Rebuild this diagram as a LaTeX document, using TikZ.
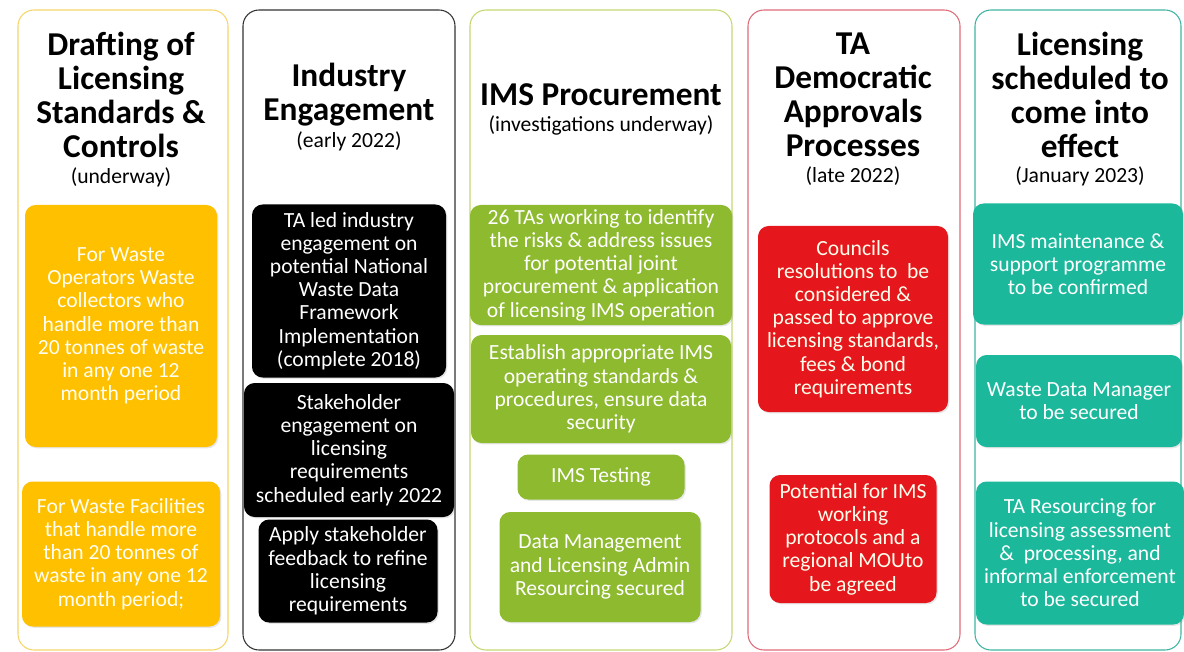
\documentclass[tikz,border=0pt]{standalone}
\usepackage{fontspec}
\setmainfont{Carlito}
\usetikzlibrary{shadows}

\definecolor{wyellow}{HTML}{FFC000}
\definecolor{wgreen}{HTML}{8DBA2E}
\definecolor{wred}{HTML}{E5161C}
\definecolor{wteal}{HTML}{1CB89C}
\definecolor{line1}{HTML}{F6D66A}
\definecolor{line3}{HTML}{C4D872}
\definecolor{line4}{HTML}{E06A78}
\definecolor{line5}{HTML}{3FB3A0}

\newcommand\headfont{\fontsize{25}{25.5}\selectfont\bfseries}
\newcommand\subfont{\fontsize{16.2}{17}\selectfont}
\newcommand\cardfont{\fontsize{16.2}{17.4}\selectfont}

\begin{document}
\begin{tikzpicture}[x=0.75pt,y=-0.75pt,
  col/.style={draw=#1, line width=0.8pt, rounded corners=12pt, inner sep=0pt, minimum height=480pt},
  head/.style={align=center, font=\headfont, inner sep=0pt},
  sub/.style={align=center, font=\subfont, inner sep=0pt},
  card/.style={rounded corners=8pt, inner sep=0pt, align=center, font=\cardfont, text=white,
    drop shadow={shadow xshift=1pt, shadow yshift=-1pt, opacity=0.2}},
  ycard/.style={card, fill=wyellow, text=white!95!yellow},
  kcard/.style={card, fill=black},
  gcard/.style={card, fill=wgreen},
  rcard/.style={card, fill=wred, text=white!92!yellow},
  tcard/.style={card, fill=wteal}]
\useasboundingbox (0,0) rectangle (1184,652);

\node[col=line1, minimum width=157.5pt] (c1) at (123,330) {};
\node[col=black!80, minimum width=159pt] (c2) at (349,330) {};
\node[col=line3, minimum width=196.5pt] (c3) at (601,330) {};
\node[col=line4, minimum width=159pt] (c4) at (854,330) {};
\node[col=line5, minimum width=154.5pt] (c5) at (1078,330) {};

\node[head] (h1) at (121,95) {Drafting of\\Licensing\\Standards \&\\Controls};
\node[sub] (s1) at (121,177) {(underway)};
\node[head] (h2) at (349,95) {Industry\\Engagement};
\node[sub] (s2) at (349,141) {(early 2022)};
\node[head] (h3) at (601,95) {IMS Procurement};
\node[sub] (s3) at (601,125) {(investigations underway)};
\node[head] (h4) at (853,95) {TA\\Democratic\\Approvals\\Processes};
\node[sub] (s4) at (853,176) {(late 2022)};
\node[head] (h5) at (1080,95) {Licensing\\scheduled to\\come into\\effect};
\node[sub] (s5) at (1080,176) {(January 2023)};

\node[ycard, minimum width=144pt, minimum height=181.5pt] (y1) at (121,326)
  {For Waste\\Operators Waste\\collectors who\\handle more than\\20 tonnes of waste\\in any one 12\\month period};
\node[ycard, minimum width=148.5pt, minimum height=108.75pt] (y2) at (121,554)
  {For Waste Facilities\\that handle more\\than 20 tonnes of\\waste in any one 12\\month period;};

\node[kcard, minimum width=145.5pt, minimum height=129.75pt] (k1) at (349,291)
  {TA led industry\\engagement on\\potential National\\Waste Data\\Framework\\Implementation\\(complete 2018)};
\node[kcard, minimum width=157.5pt, minimum height=100.5pt] (k2) at (349,450)
  {Stakeholder\\engagement on\\licensing\\requirements\\scheduled early 2022};
\node[kcard, minimum width=134.25pt, minimum height=77.25pt] (k3) at (348,571)
  {Apply stakeholder\\feedback to refine\\licensing\\requirements};

\node[gcard, minimum width=196.5pt, minimum height=90pt] (g1) at (601,265)
  {26 TAs working to identify\\the risks \& address issues\\for potential joint\\procurement \& application\\of licensing IMS operation};
\node[gcard, minimum width=195pt, minimum height=81pt] (g2) at (601,389)
  {Establish appropriate IMS\\operating standards \&\\procedures, ensure data\\security};
\node[gcard, minimum width=125.25pt, minimum height=33.75pt] (g3) at (601,477)
  {IMS Testing};
\node[gcard, minimum width=150.75pt, minimum height=82.5pt] (g4) at (600,567)
  {Data Management\\and Licensing Admin\\Resourcing secured};

\node[rcard, minimum width=142.5pt, minimum height=139.5pt] (r1) at (853,319)
  {Councils\\resolutions to\ \ be\\considered \&\\passed to approve\\licensing standards,\\fees \& bond\\requirements};
\node[rcard, minimum width=125.25pt, minimum height=96pt] (r2) at (853,539)
  {Potential for IMS\\working\\protocols and a\\regional MOUto\\be agreed};

\node[tcard, minimum width=157.5pt, minimum height=90.75pt] (t1) at (1078,264)
  {IMS maintenance \&\\support programme\\to be confirmed};
\node[tcard, minimum width=154.5pt, minimum height=69pt] (t2) at (1079,401)
  {Waste Data Manager\\to be secured};
\node[tcard, minimum width=156pt, minimum height=107.25pt] (t3) at (1080,553)
  {TA Resourcing for\\licensing assessment\\\&\ \ processing, and\\informal enforcement\\to be secured};
\end{tikzpicture}
\end{document}
